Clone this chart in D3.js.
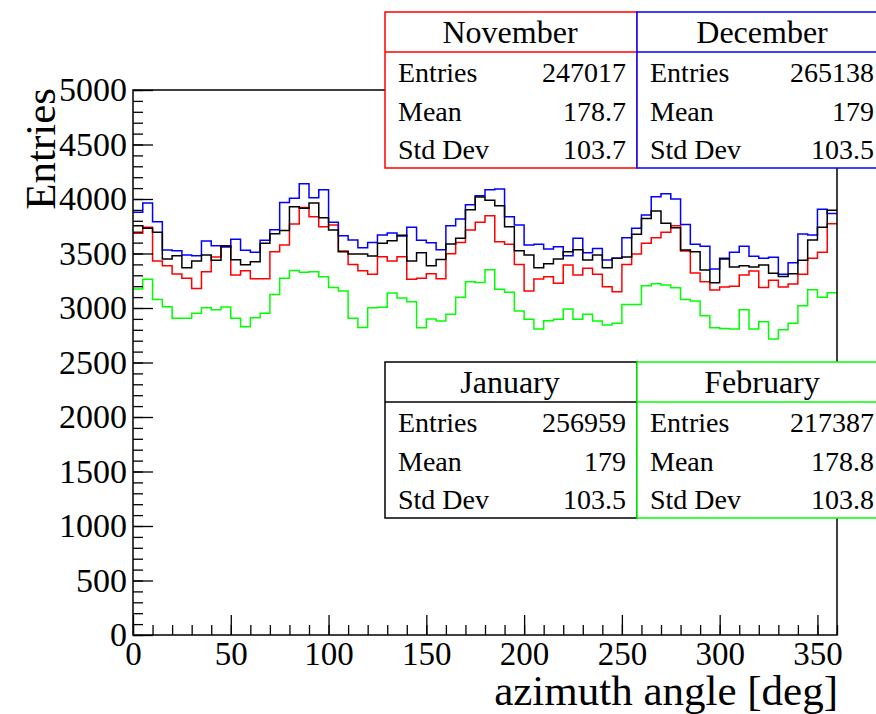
<!DOCTYPE html>
<html>
<head>
<meta charset="utf-8">
<script src="https://cdn.jsdelivr.net/npm/d3@7"></script>
<style>
  html, body { margin: 0; padding: 0; background: #fff; }
  svg { display: block; }
  svg text { font-family: "Liberation Serif", "Times New Roman", serif; }
</style>
</head>
<body>
<svg id="chart" width="876" height="714"></svg>
<script>
// Azimuth angle distributions, 72 bins of 5 degrees each
const binWidth = 5;
const xRange = [0, 360];
const yRange = [0, 5000];

const november = [
  3685, 3740, 3431, 3388, 3312, 3272, 3180, 3333, 3468, 3572, 3303, 3342,
  3269, 3269, 3517, 3578, 3770, 3923, 3838, 3746, 3761, 3523, 3400, 3342,
  3309, 3471, 3431, 3471, 3263, 3272, 3315, 3269, 3498, 3602, 3715, 3786,
  3847, 3608, 3584, 3400, 3156, 3266, 3287, 3226, 3394, 3303, 3364, 3309,
  3196, 3150, 3400, 3495, 3593, 3645, 3694, 3755, 3523, 3321, 3241, 3165,
  3193, 3199, 3303, 3339, 3189, 3254, 3193, 3220, 3309, 3456, 3511, 3774
];
const december = [
  3878, 3963, 3792, 3532, 3526, 3486, 3480, 3615, 3572, 3560, 3630, 3529,
  3511, 3621, 3719, 3969, 4006, 4140, 4012, 4085, 3786, 3663, 3624, 3553,
  3602, 3670, 3688, 3660, 3740, 3621, 3599, 3535, 3755, 3816, 3948, 4030,
  4085, 4092, 3838, 3761, 3578, 3584, 3541, 3563, 3480, 3639, 3507, 3547,
  3440, 3456, 3645, 3731, 3853, 4021, 4049, 4000, 3767, 3584, 3566, 3358,
  3456, 3511, 3566, 3474, 3456, 3465, 3309, 3416, 3679, 3670, 3905, 3868
];
const january = [
  3755, 3731, 3694, 3449, 3480, 3370, 3431, 3486, 3437, 3569, 3443, 3397,
  3425, 3593, 3682, 3712, 3929, 3914, 3963, 3829, 3715, 3517, 3495, 3495,
  3477, 3593, 3618, 3667, 3431, 3507, 3388, 3446, 3587, 3639, 3902, 4018,
  3988, 3939, 3746, 3526, 3486, 3370, 3407, 3449, 3517, 3535, 3440, 3486,
  3370, 3456, 3468, 3676, 3822, 3890, 3777, 3737, 3532, 3517, 3348, 3232,
  3449, 3376, 3388, 3376, 3394, 3318, 3290, 3315, 3437, 3624, 3740, 3896
];
const february = [
  3174, 3263, 3079, 3012, 2905, 2905, 2951, 3003, 2985, 3009, 2905, 2829,
  2911, 2951, 3125, 3272, 3345, 3327, 3333, 3287, 3189, 3156, 2905, 2822,
  3003, 3006, 3137, 3092, 3058, 2819, 2899, 2881, 2942, 3098, 3241, 3235,
  3352, 3171, 3144, 2972, 2896, 2807, 2884, 2896, 2991, 2896, 2942, 2881,
  2844, 2859, 3033, 3033, 3205, 3223, 3211, 3186, 3079, 3064, 2930, 2819,
  2813, 2807, 2985, 2807, 2874, 2715, 2801, 2859, 3021, 3168, 3098, 3141
];

// Statistics box contents
const seriesNames = ["November", "December", "January", "February"];
const seriesColors = ["#ff0000", "#0000ff", "#000000", "#00ff00"];
const seriesEntries = [247017, 265138, 256959, 217387];
const seriesMeans = [178.7, 179, 179, 178.8];
const seriesStdDevs = [103.7, 103.5, 103.5, 103.8];
const seriesValues = [november, december, january, february];

const yTicks = [0, 500, 1000, 1500, 2000, 2500, 3000, 3500, 4000, 4500, 5000];
const xTicks = [0, 50, 100, 150, 200, 250, 300, 350];
const xTitle = "azimuth angle [deg]";
const yTitle = "Entries";

const svg = d3.select("#chart");
const W = 876, H = 714;
const margin = { left: 133, top: 90, right: 39, bottom: 79 };
const pw = W - margin.left - margin.right;
const ph = H - margin.top - margin.bottom;
const serif = '"Liberation Serif", "Times New Roman", serif';

svg.append("rect").attr("width", W).attr("height", H).attr("fill", "#fff");

const x = d3.scaleLinear().domain(xRange).range([0, pw]);
const y = d3.scaleLinear().domain(yRange).range([ph, 0]);

const g = svg.append("g").attr("transform", `translate(${margin.left},${margin.top})`);

// Histograms as step outlines
const step = d3.line()
  .x(d => x(d[0]))
  .y(d => y(d[1]))
  .curve(d3.curveStepAfter);

seriesValues.forEach((vals, k) => {
  const pts = vals.map((v, i) => [i * binWidth, v]);
  pts.push([vals.length * binWidth, vals[vals.length - 1]]);
  g.append("path")
    .attr("d", step(pts))
    .attr("fill", "none")
    .attr("stroke", seriesColors[k])
    .attr("stroke-width", 1.5);
});

// Frame
g.append("rect")
  .attr("width", pw).attr("height", ph)
  .attr("fill", "none").attr("stroke", "#000").attr("stroke-width", 1.5);

// Axes: ticks pointing inside the frame
const fmt = d3.format("d");
const yMinor = d3.axisLeft(y).tickValues(d3.range(0, 5001, 100)).tickSize(-10).tickFormat("").tickSizeOuter(0);
const yMajor = d3.axisLeft(y).tickValues(yTicks).tickSize(-20).tickPadding(6).tickFormat(fmt).tickSizeOuter(0);
const xMinor = d3.axisBottom(x).tickValues(d3.range(0, 361, 10)).tickSize(-10).tickFormat("").tickSizeOuter(0);
const xMajor = d3.axisBottom(x).tickValues(xTicks).tickSize(-20).tickPadding(7).tickFormat(fmt).tickSizeOuter(0);

function styleAxis(sel, size) {
  sel.attr("font-family", serif).attr("font-size", size);
  sel.select(".domain").remove();
  sel.selectAll("line").attr("stroke", "#000").attr("stroke-width", 1.3);
  sel.selectAll("text").attr("fill", "#000").style("font-family", serif);
}

g.append("g").call(yMinor).call(styleAxis, 34);
g.append("g").call(yMajor).call(styleAxis, 34);
g.append("g").attr("transform", `translate(0,${ph})`).call(xMinor).call(styleAxis, 33);
g.append("g").attr("transform", `translate(0,${ph})`).call(xMajor).call(styleAxis, 33);

// Axis titles
svg.append("text")
  .attr("x", 838).attr("y", 705)
  .attr("text-anchor", "end")
  .attr("font-family", serif)
  .attr("font-size", 43)
  .text(xTitle);

svg.append("text")
  .attr("transform", `translate(55,${margin.top - 2}) rotate(-90)`)
  .attr("text-anchor", "end")
  .attr("font-family", serif)
  .attr("font-size", 43)
  .text(yTitle);

// Statistics boxes
const boxW = 252, boxH = 156;
const boxPos = [[385, 12], [637, 12], [385, 362], [637, 362]];
seriesNames.forEach((name, k) => {
  const [bx, by] = boxPos[k];
  const b = svg.append("g").attr("transform", `translate(${bx},${by})`)
    .attr("font-family", serif);
  b.append("rect").attr("width", boxW).attr("height", boxH)
    .attr("fill", "#fff").attr("stroke", seriesColors[k]).attr("stroke-width", 1.5);
  b.append("line").attr("x1", 0).attr("x2", boxW).attr("y1", 40).attr("y2", 40)
    .attr("stroke", seriesColors[k]).attr("stroke-width", 1.5);
  b.append("text").attr("x", 125).attr("y", 31).attr("text-anchor", "middle")
    .attr("font-size", 32).text(name);
  const valueX = Math.min(boxW - 11, W - 2 - bx);
  const rows = [
    ["Entries", String(seriesEntries[k])],
    ["Mean", String(seriesMeans[k])],
    ["Std Dev", String(seriesStdDevs[k])]
  ];
  rows.forEach((r, i) => {
    const ty = 70 + i * 38.5;
    b.append("text").attr("x", 13).attr("y", ty).attr("font-size", 28).text(r[0]);
    b.append("text").attr("x", valueX).attr("y", ty).attr("text-anchor", "end")
      .attr("font-size", 28).text(r[1]);
  });
});
</script>
</body>
</html>
